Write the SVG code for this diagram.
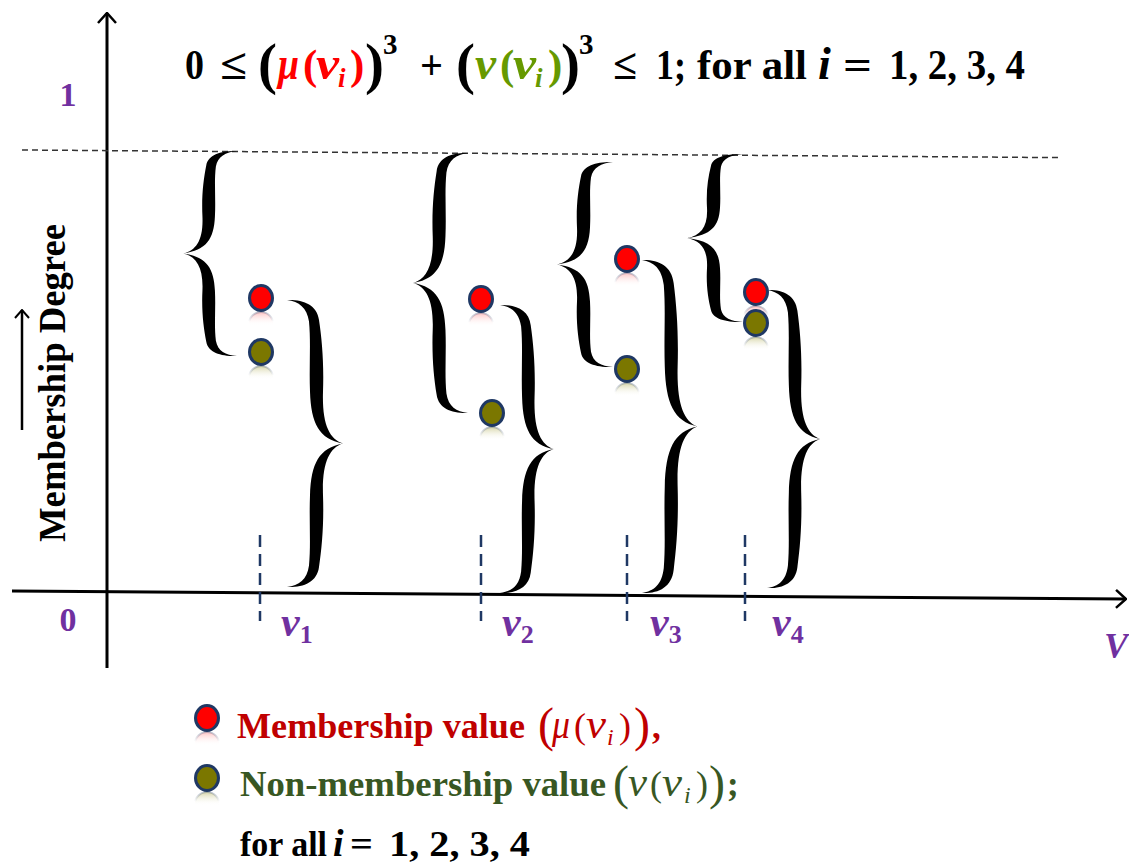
<svg xmlns="http://www.w3.org/2000/svg" xmlns:xlink="http://www.w3.org/1999/xlink" width="1129" height="865" viewBox="0 0 1129 865">
<style>
.s{font-family:"Liberation Serif","Times New Roman",serif}
.b{font-weight:bold}
.it{font-style:italic}
.f40{font-size:43px}
.f35{font-size:35px}
.big{font-size:57px}
.lbig{font-size:48px;font-weight:normal}
.sub{font-size:27px}
.sup{font-size:29px}
.red{fill:#ff0000}
.grn{fill:#669900}
.lred{fill:#c00000}
.lgrn{fill:#385723}
.pur{fill:#7030a0}
.tick{stroke:#1f3864;stroke-width:2.5;stroke-dasharray:12 7;fill:none}
.axis{stroke:#000;stroke-width:3;fill:none}
.dotR{fill:#ff0000;stroke:#1f3864;stroke-width:3}
.dotG{fill:#7b7700;stroke:#1f3864;stroke-width:3}
.reflR{fill:url(#gR);stroke:url(#gB);stroke-width:2}
.reflG{fill:url(#gG);stroke:url(#gB);stroke-width:2}
</style>
<defs>
<marker id="arr" viewBox="0 0 12 20" refX="11" refY="10" markerWidth="12" markerHeight="20" markerUnits="userSpaceOnUse" orient="auto">
<path d="M1,1 L11,10 L1,19" fill="none" stroke="#000" stroke-width="2.5"/>
</marker>
<marker id="arrS" viewBox="0 0 10 16" refX="9" refY="8" markerWidth="10" markerHeight="16" markerUnits="userSpaceOnUse" orient="auto">
<path d="M1,1 L9,8 L1,15" fill="none" stroke="#000" stroke-width="2"/>
</marker>
<linearGradient id="gR" x1="0" y1="0" x2="0" y2="1"><stop offset="0" stop-color="#ff5050" stop-opacity="0.35"/><stop offset="0.55" stop-color="#ffffff" stop-opacity="0"/></linearGradient>
<linearGradient id="gG" x1="0" y1="0" x2="0" y2="1"><stop offset="0" stop-color="#8a8500" stop-opacity="0.35"/><stop offset="0.55" stop-color="#ffffff" stop-opacity="0"/></linearGradient>
<linearGradient id="gB" x1="0" y1="0" x2="0" y2="1"><stop offset="0" stop-color="#1f3864" stop-opacity="0.3"/><stop offset="0.4" stop-color="#1f3864" stop-opacity="0"/></linearGradient>
<path id="brace" d="M0,0 C16,-2 30,16 32,70 C35,140 37,220 36,320 C35,430 42,485 56,500 C42,515 35,570 36,680 C37,780 35,860 32,930 C30,984 16,1002 0,1000 C12,994 20,976 22,925 C24,850 22,770 23,680 C24,570 32,515 56,500 C32,485 24,430 23,320 C22,230 24,150 22,75 C20,26 12,6 0,0 Z" fill="#000"/>
</defs>
<rect width="1129" height="865" fill="#fff"/>

<g id="axes">
<line class="axis" x1="107" y1="668" x2="107" y2="13" marker-end="url(#arr)"/>
<line class="axis" x1="12" y1="591" x2="1126" y2="599" marker-end="url(#arr)"/>
<line x1="22" y1="150" x2="1058" y2="157.6" stroke="#333" stroke-width="1.5" stroke-dasharray="6 4"/>
<text class="s b pur" x="68" y="106" font-size="34" text-anchor="middle">1</text>
<text class="s b pur" x="68" y="631" font-size="34" text-anchor="middle">0</text>
<text class="s b" font-size="38" x="65" y="383" text-anchor="middle" transform="rotate(-90 65 383)" textLength="318" lengthAdjust="spacingAndGlyphs">Membership Degree</text>
<line x1="22" y1="430" x2="22" y2="310" stroke="#000" stroke-width="2.5" marker-end="url(#arrS)"/>
<text class="s b it pur" x="1104" y="658" font-size="36">V</text>
</g>

<g id="formula" class="s b f40">
<text x="185" y="79" textLength="19" lengthAdjust="spacingAndGlyphs">0</text>
<text x="220" y="79" textLength="27" lengthAdjust="spacingAndGlyphs">≤</text>
<text class="big" x="258" y="83">(</text>
<text class="red it" x="278" y="79" font-size="46" textLength="21" lengthAdjust="spacingAndGlyphs">μ</text>
<text class="red" x="303" y="79">(</text>
<text class="red it" x="316" y="79" font-size="46" textLength="23" lengthAdjust="spacingAndGlyphs">v</text>
<text class="red it sub" x="338" y="87">i</text>
<text class="red" x="350" y="79">)</text>
<text class="big" x="365" y="83">)</text>
<text class="sup" x="383" y="54">3</text>
<text x="420" y="79" textLength="23" lengthAdjust="spacingAndGlyphs">+</text>
<text class="big" x="456" y="83">(</text>
<text class="grn it" x="475" y="79" font-size="46" textLength="21" lengthAdjust="spacingAndGlyphs">ν</text>
<text class="grn" x="500" y="79">(</text>
<text class="grn it" x="513" y="79" font-size="46" textLength="23" lengthAdjust="spacingAndGlyphs">v</text>
<text class="grn it sub" x="535" y="87">i</text>
<text class="grn" x="548" y="79">)</text>
<text class="big" x="561" y="83">)</text>
<text class="sup" x="579" y="54">3</text>
<text x="613" y="79" textLength="24" lengthAdjust="spacingAndGlyphs">≤</text>
<text x="656" y="79" textLength="30" lengthAdjust="spacingAndGlyphs">1;</text>
<text x="697" y="79" textLength="110" lengthAdjust="spacingAndGlyphs">for all</text>
<text class="it" x="818" y="79" font-size="46">i</text>
<text x="843" y="79" textLength="29" lengthAdjust="spacingAndGlyphs">=</text>
<text x="889" y="79" textLength="136" lengthAdjust="spacingAndGlyphs">1, 2, 3, 4</text>
</g>

<g id="ticks">
<line class="tick" x1="260" y1="535" x2="260" y2="621"/>
<line class="tick" x1="481" y1="535" x2="481" y2="621"/>
<line class="tick" x1="627" y1="535" x2="627" y2="621"/>
<line class="tick" x1="745" y1="535" x2="745" y2="621"/>
</g>

<g id="vlabels" class="s b pur">
<text x="281" y="636"><tspan class="it" font-size="42">v</tspan><tspan font-size="26" dy="7">1</tspan></text>
<text x="502" y="636"><tspan class="it" font-size="42">v</tspan><tspan font-size="26" dy="7">2</tspan></text>
<text x="650" y="636"><tspan class="it" font-size="42">v</tspan><tspan font-size="26" dy="7">3</tspan></text>
<text x="772" y="636"><tspan class="it" font-size="42">v</tspan><tspan font-size="26" dy="7">4</tspan></text>
</g>

<g id="braces">
<use xlink:href="#brace" href="#brace" transform="translate(237,151) scale(-0.96,0.205)"/>
<use xlink:href="#brace" href="#brace" transform="translate(287,300) scale(1,0.287)"/>
<use xlink:href="#brace" href="#brace" transform="translate(468,153) scale(-0.98,0.26)"/>
<use xlink:href="#brace" href="#brace" transform="translate(500,305) scale(0.96,0.288)"/>
<use xlink:href="#brace" href="#brace" transform="translate(613,162) scale(-1,0.205)"/>
<use xlink:href="#brace" href="#brace" transform="translate(642,260) scale(0.99,0.333)"/>
<use xlink:href="#brace" href="#brace" transform="translate(743,154) scale(-1,0.168)"/>
<use xlink:href="#brace" href="#brace" transform="translate(767,290) scale(0.95,0.298)"/>
</g>

<g id="v1">
<ellipse class="reflR" cx="261" cy="324" rx="12" ry="12"/>
<ellipse class="dotR" cx="261" cy="298" rx="11.5" ry="12.5"/>
<ellipse class="reflG" cx="261" cy="378" rx="12" ry="12"/>
<ellipse class="dotG" cx="261" cy="352" rx="11.5" ry="12.5"/>
</g>
<g id="v2">
<ellipse class="reflR" cx="481" cy="325" rx="12" ry="12"/>
<ellipse class="dotR" cx="481" cy="299" rx="11.5" ry="12.5"/>
<ellipse class="reflG" cx="492" cy="439" rx="12" ry="12"/>
<ellipse class="dotG" cx="492" cy="413" rx="11.5" ry="12.5"/>
</g>
<g id="v3">
<ellipse class="reflR" cx="627" cy="285" rx="12" ry="12"/>
<ellipse class="dotR" cx="627" cy="259" rx="11.5" ry="12.5"/>
<ellipse class="reflG" cx="627" cy="395" rx="12" ry="12"/>
<ellipse class="dotG" cx="627" cy="369" rx="11.5" ry="12.5"/>
</g>
<g id="v4">
<ellipse class="reflR" cx="756" cy="318" rx="12" ry="12"/>
<ellipse class="dotR" cx="756" cy="292" rx="11.5" ry="12.5"/>
<ellipse class="reflG" cx="756" cy="349" rx="12" ry="12"/>
<ellipse class="dotG" cx="756" cy="323" rx="11.5" ry="12.5"/>
</g>

<g id="legend-membership">
<ellipse class="reflR" cx="207" cy="744" rx="12" ry="12"/>
<ellipse class="dotR" cx="207" cy="718" rx="11.5" ry="12.5"/>
<g class="s lred">
<text class="b f35" x="237" y="738" textLength="288" lengthAdjust="spacingAndGlyphs">Membership value</text>
<text class="lbig" x="538" y="741">(</text>
<text class="it" font-size="40" x="552" y="738" textLength="18" lengthAdjust="spacingAndGlyphs">μ</text>
<text font-size="36" x="574" y="738">(</text>
<text class="it" font-size="40" x="586" y="738" textLength="20" lengthAdjust="spacingAndGlyphs">v</text>
<text class="it" font-size="24" x="607" y="745">i</text>
<text font-size="36" x="619" y="738">)</text>
<text class="lbig" x="634" y="741">)</text>
<text class="b f35" x="652" y="738">,</text>
</g>
</g>

<g id="legend-nonmembership">
<ellipse class="reflG" cx="207" cy="804" rx="12" ry="12"/>
<ellipse class="dotG" cx="207" cy="778" rx="11.5" ry="12.5"/>
<g class="s lgrn">
<text class="b f35" x="240" y="796" textLength="366" lengthAdjust="spacingAndGlyphs">Non-membership value</text>
<text class="lbig" x="613" y="799">(</text>
<text class="it" font-size="40" x="628" y="796" textLength="19" lengthAdjust="spacingAndGlyphs">ν</text>
<text font-size="36" x="650" y="796">(</text>
<text class="it" font-size="40" x="662" y="796" textLength="20" lengthAdjust="spacingAndGlyphs">v</text>
<text class="it" font-size="24" x="684" y="803">i</text>
<text font-size="36" x="696" y="796">)</text>
<text class="lbig" x="709" y="799">)</text>
<text class="b f35" x="727" y="796">;</text>
</g>
</g>

<g id="legend-forall" class="s b f35">
<text x="240" y="856" textLength="87" lengthAdjust="spacingAndGlyphs">for all</text>
<text class="it" x="333" y="856" font-size="38">i</text>
<text x="350" y="856" textLength="23" lengthAdjust="spacingAndGlyphs">=</text>
<text x="389" y="856" textLength="141" lengthAdjust="spacingAndGlyphs">1, 2, 3, 4</text>
</g>
</svg>
